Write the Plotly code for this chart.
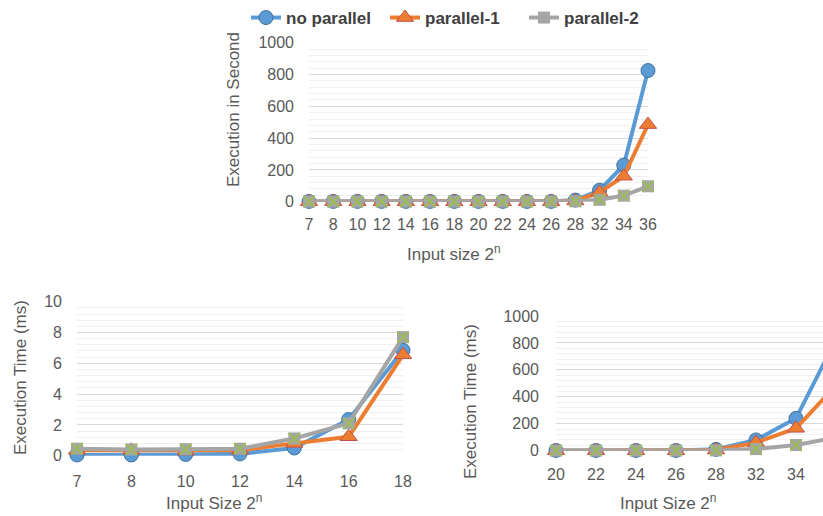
import plotly.graph_objects as go

# ---------------- data ----------------
top_cats = ["7", "8", "10", "12", "14", "16", "18", "20", "22", "24", "26", "28", "32", "34", "36"]
top_noparallel = [2, 2, 2, 2, 2, 2, 2, 2, 2, 2, 2, 10, 72, 230, 825]
top_parallel1 = [0, 0, 0, 0, 0, 0, 0, 0, 0, 0, 0, 5, 58, 160, 485]
top_parallel2 = [1, 1, 1, 1, 1, 1, 1, 1, 1, 1, 1, 3, 12, 38, 97]

bl_cats = ["7", "8", "10", "12", "14", "16", "18"]
bl_noparallel = [0.05, 0.05, 0.08, 0.12, 0.5, 2.35, 6.85]
bl_parallel1 = [0.35, 0.35, 0.3, 0.35, 0.8, 1.23, 6.55]
bl_parallel2 = [0.45, 0.4, 0.42, 0.45, 1.12, 2.1, 7.7]

br_cats = ["20", "22", "24", "26", "28", "32", "34", "36"]
br_noparallel = [2, 2, 2, 2, 10, 80, 240, 825]
br_parallel1 = [0, 0, 0, 0, 5, 60, 166, 485]
br_parallel2 = [1, 1, 1, 1, 3, 12, 42, 97]

series_names = ["no parallel", "parallel-1", "parallel-2"]

# ---------------- style ----------------
W, H = 823, 516
BLUE, BLUE_EDGE = "#5B9BD5", "#41719C"
ORANGE, ORANGE_EDGE = "#ED7D31", "#C0504D"
GRAY, GREEN = "#A5A5A5", "#9BBB59"
TXT = "#595959"
FONT = "Liberation Sans"

fig = go.Figure()


def px_x(a, b):
    return [a / W, b / W]


def px_y(bottom, top):
    return [(H - bottom) / H, (H - top) / H]


def add_set(cats, s1, s2, s3, xa, ya, show, msize):
    fig.add_trace(go.Scatter(
        x=cats, y=s1, name=series_names[0], mode="lines+markers", xaxis=xa, yaxis=ya,
        line=dict(color=BLUE, width=4),
        marker=dict(symbol="circle", size=msize, color=BLUE, line=dict(color=BLUE_EDGE, width=1)),
        showlegend=show, legendgroup="a", cliponaxis=False))
    fig.add_trace(go.Scatter(
        x=cats, y=s2, name=series_names[1], mode="lines+markers", xaxis=xa, yaxis=ya,
        line=dict(color=ORANGE, width=4),
        marker=dict(symbol="triangle-up", size=msize + 1, color=ORANGE, line=dict(color=ORANGE_EDGE, width=1)),
        showlegend=show, legendgroup="b", cliponaxis=False))
    fig.add_trace(go.Scatter(
        x=cats, y=s3, name=series_names[2], mode="lines+markers", xaxis=xa, yaxis=ya,
        line=dict(color=GRAY, width=4),
        marker=dict(symbol="square", size=msize - 2, color=GRAY, line=dict(color=GRAY, width=0)),
        showlegend=show, legendgroup="c", cliponaxis=False))
    fig.add_trace(go.Scatter(
        x=cats, y=s3, name=series_names[2], mode="markers", xaxis=xa, yaxis=ya,
        marker=dict(symbol="x-thin", size=msize - 3, color=GREEN, line=dict(color=GREEN, width=2)),
        showlegend=False, legendgroup="c", cliponaxis=False, hoverinfo="skip"))


add_set(top_cats, top_noparallel, top_parallel1, top_parallel2, "x", "y", True, 14)
add_set(bl_cats, bl_noparallel, bl_parallel1, bl_parallel2, "x2", "y2", False, 14)
add_set(br_cats, br_noparallel, br_parallel1, br_parallel2, "x3", "y3", False, 14)

tickfont = dict(family=FONT, size=16, color=TXT)


def xaxis(dom, rng, standoff, anchor):
    return dict(domain=dom, type="category", range=rng, showgrid=False, zeroline=False,
                showline=False, ticks="", tickfont=tickfont, ticklabelstandoff=standoff,
                anchor=anchor, automargin=False, fixedrange=True)


def yaxis(dom, rng, dtick, mdtick, anchor, standoff):
    return dict(domain=dom, range=rng, dtick=dtick, tick0=0, showgrid=True, gridcolor="#D9D9D9",
                gridwidth=1, zeroline=False, showline=False, ticks="", tickfont=tickfont,
                anchor=anchor, ticklabelstandoff=standoff, automargin=False,
                minor=dict(dtick=mdtick, showgrid=True, gridcolor="#F0F0F0", gridwidth=1),
                fixedrange=True)


fig.update_layout(
    width=W, height=H,
    margin=dict(l=0, r=0, t=0, b=0, autoexpand=False),
    paper_bgcolor="white", plot_bgcolor="white",
    font=dict(family=FONT, color=TXT),
    xaxis=xaxis(px_x(309, 648), [0, len(top_cats) - 1], 11, "y"),
    yaxis=yaxis(px_y(201.7, 42.7), [0, 1000], 200, 40, "x", 14),
    xaxis2=xaxis(px_x(77, 403), [0, len(bl_cats) - 1], 14, "y2"),
    yaxis2=yaxis(px_y(455.7, 301.7), [0, 10], 2, 0.4, "x2", 14),
    xaxis3=xaxis(px_x(556, 823), [0, (823 - 556) / 40.0], 12, "y3"),
    yaxis3=yaxis(px_y(450.7, 316), [0, 1000], 200, 40, "x3", 16),
    legend=dict(orientation="h", x=246 / W, y=1.0, xanchor="left", yanchor="top",
                font=dict(family=FONT, size=17, color="#404040", weight="bold"),
                bgcolor="rgba(0,0,0,0)", tracegroupgap=0,
                entrywidth=94, entrywidthmode="pixels"),
    showlegend=True,
)

titlefont = dict(family=FONT, size=17, color=TXT)
annots = [
    dict(text="Execution in Second", x=233, y=110, textangle=-90),
    dict(text="Input size 2<sup>n</sup>", x=454, y=253, textangle=0),
    dict(text="Execution Time (ms)", x=20, y=378, textangle=-90),
    dict(text="Input Size 2<sup>n</sup>", x=214, y=502, textangle=0),
    dict(text="Execution Time (ms)", x=470, y=402, textangle=-90),
    dict(text="Input Size 2<sup>n</sup>", x=668, y=502, textangle=0),
]
for a in annots:
    fig.add_annotation(text=a["text"], x=a["x"] / W, y=(H - a["y"]) / H, xref="paper", yref="paper",
                       xanchor="center", yanchor="middle", showarrow=False, textangle=a["textangle"],
                       font=titlefont)

fig.write_html("out.html", config={"displayModeBar": False},
               post_script="document.body.style.margin='0';document.body.style.overflow='hidden';")
